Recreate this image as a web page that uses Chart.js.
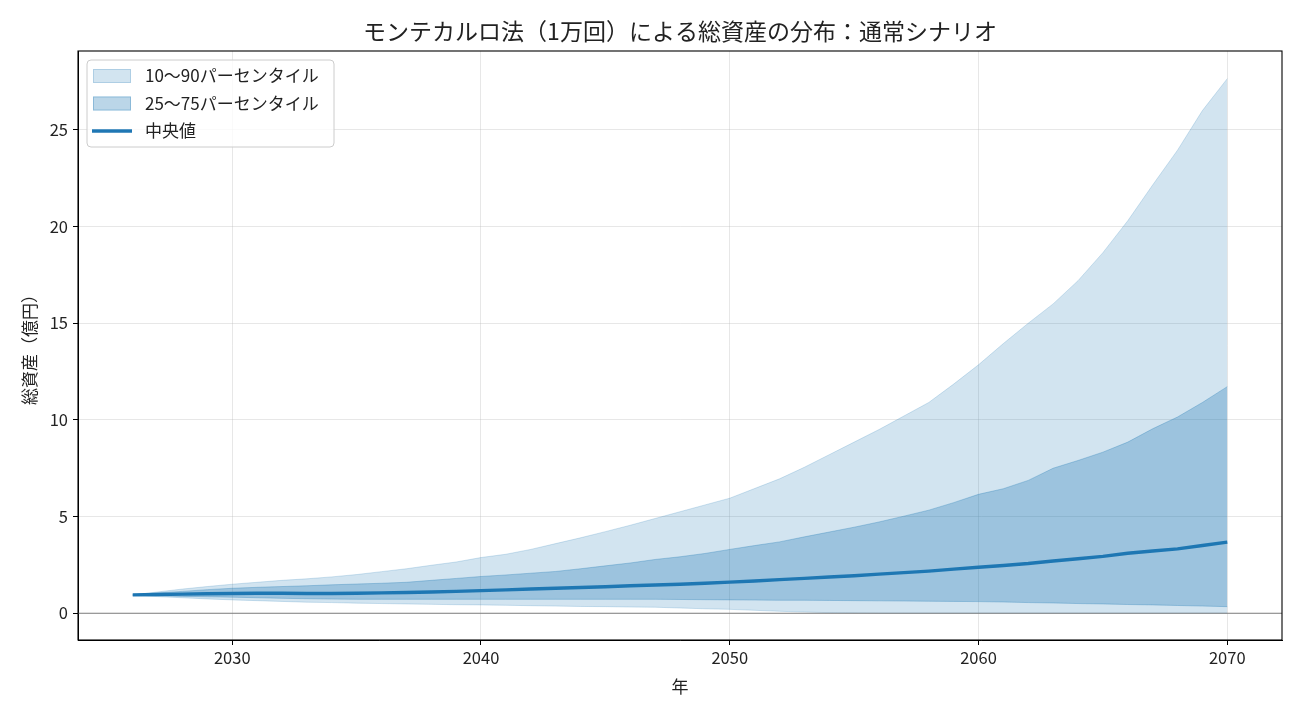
<!DOCTYPE html>
<html>
<head>
<meta charset="utf-8">
<script src="https://cdn.jsdelivr.net/npm/chart.js@4.4.1/dist/chart.umd.min.js"></script>
<style>
  html, body { margin: 0; padding: 0; background: #fff; }
</style>
</head>
<body>
<canvas id="chart" width="1300" height="715"></canvas>
<script>
// 年（横軸）
var years = [2026, 2027, 2028, 2029, 2030, 2031, 2032, 2033, 2034, 2035,
             2036, 2037, 2038, 2039, 2040, 2041, 2042, 2043, 2044, 2045,
             2046, 2047, 2048, 2049, 2050, 2051, 2052, 2053, 2054, 2055,
             2056, 2057, 2058, 2059, 2060, 2061, 2062, 2063, 2064, 2065,
             2066, 2067, 2068, 2069, 2070];

// パーセンタイル（億円）
var p10 = [0.92, 0.86, 0.80, 0.74, 0.69, 0.65, 0.61, 0.57, 0.55, 0.52,
           0.50, 0.48, 0.46, 0.44, 0.43, 0.41, 0.39, 0.37, 0.35, 0.34,
           0.32, 0.31, 0.27, 0.23, 0.20, 0.15, 0.10, 0.06, 0.03, 0.01,
           0.00, 0.00, 0.00, 0.00, 0.00, 0.00, 0.00, 0.00, 0.00, 0.00,
           0.00, 0.00, 0.00, 0.00, 0.00];
var p25 = [0.93, 0.90, 0.87, 0.85, 0.83, 0.80, 0.77, 0.75, 0.73, 0.72,
           0.72, 0.72, 0.72, 0.72, 0.72, 0.72, 0.72, 0.72, 0.72, 0.72,
           0.72, 0.72, 0.71, 0.70, 0.69, 0.68, 0.67, 0.67, 0.66, 0.65,
           0.64, 0.63, 0.62, 0.61, 0.60, 0.58, 0.55, 0.53, 0.50, 0.48,
           0.45, 0.43, 0.40, 0.37, 0.34];
var median = [0.95, 0.97, 0.99, 1.01, 1.02, 1.03, 1.03, 1.02, 1.02, 1.03,
              1.05, 1.07, 1.10, 1.13, 1.17, 1.21, 1.25, 1.29, 1.33, 1.37,
              1.42, 1.46, 1.50, 1.55, 1.61, 1.67, 1.74, 1.80, 1.87, 1.94,
              2.02, 2.10, 2.18, 2.28, 2.38, 2.47, 2.57, 2.70, 2.82, 2.94,
              3.10, 3.22, 3.33, 3.50, 3.68];
var p75 = [0.95, 1.05, 1.13, 1.22, 1.29, 1.34, 1.38, 1.42, 1.47, 1.51,
           1.55, 1.60, 1.70, 1.80, 1.90, 1.98, 2.07, 2.16, 2.30, 2.45,
           2.60, 2.78, 2.92, 3.09, 3.30, 3.50, 3.69, 3.95, 4.20, 4.45,
           4.72, 5.02, 5.33, 5.72, 6.15, 6.44, 6.87, 7.50, 7.90, 8.33,
           8.85, 9.54, 10.15, 10.90, 11.72];
var p90 = [0.95, 1.10, 1.25, 1.38, 1.50, 1.60, 1.70, 1.78, 1.88, 2.00,
           2.15, 2.30, 2.48, 2.65, 2.88, 3.05, 3.30, 3.60, 3.90, 4.22,
           4.55, 4.90, 5.25, 5.60, 5.95, 6.45, 6.95, 7.55, 8.20, 8.85,
           9.50, 10.20, 10.90, 11.85, 12.85, 13.95, 15.00, 16.00, 17.20, 18.65,
           20.30, 22.15, 23.95, 26.00, 27.65];

// 目盛り
var xTicks = [2030, 2040, 2050, 2060, 2070];
var yTicks = [0, 5, 10, 15, 20, 25];

var FONT = "'Noto Sans CJK JP', 'Noto Sans', sans-serif";
var BLUE = '#1f77b4';
var BAND_OUTER = 'rgba(31,119,180,0.2)';
var BAND_INNER = 'rgba(31,119,180,0.3)';

function toPoints(arr) {
    return years.map(function (yr, i) { return { x: yr, y: arr[i] }; });
}

// タイトル・枠・0ライン・凡例
var decorPlugin = {
    id: 'decor',
    afterDatasetsDraw: function (chart) {
        var ctx = chart.ctx, a = chart.chartArea;
        var y0 = chart.scales.y.getPixelForValue(0);
        ctx.save();
        ctx.strokeStyle = '#808080';
        ctx.lineWidth = 1.1;
        ctx.beginPath();
        ctx.moveTo(a.left, y0);
        ctx.lineTo(a.right, y0);
        ctx.stroke();
        ctx.restore();
    },
    afterDraw: function (chart) {
        var ctx = chart.ctx, a = chart.chartArea;
        ctx.save();
        // 枠
        ctx.strokeStyle = '#000';
        ctx.lineWidth = 1.1;
        ctx.strokeRect(a.left, a.top, a.right - a.left, a.bottom - a.top);

        // タイトル
        ctx.fillStyle = '#222';
        ctx.font = '23px ' + FONT;
        ctx.textAlign = 'center';
        ctx.textBaseline = 'middle';
        ctx.fillText('モンテカルロ法（1万回）による総資産の分布：通常シナリオ', (a.left + a.right) / 2, 31);

        // 凡例
        var bx = a.left + 9, by = a.top + 9, bw = 247, bh = 87;
        ctx.beginPath();
        ctx.roundRect(bx, by, bw, bh, 4);
        ctx.fillStyle = 'rgba(255,255,255,0.8)';
        ctx.fill();
        ctx.strokeStyle = '#cccccc';
        ctx.lineWidth = 1;
        ctx.stroke();

        var items = [
            { label: '10〜90パーセンタイル', type: 'box', color: BAND_OUTER },
            { label: '25〜75パーセンタイル', type: 'box', color: BAND_INNER },
            { label: '中央値', type: 'line', color: BLUE }
        ];
        ctx.font = '17px ' + FONT;
        ctx.textAlign = 'left';
        ctx.textBaseline = 'middle';
        items.forEach(function (it, i) {
            var cy = by + 16 + i * 27.5;
            if (it.type === 'box') {
                ctx.fillStyle = it.color;
                ctx.fillRect(bx + 6, cy - 7, 38, 14);
                ctx.strokeStyle = it.color;
                ctx.lineWidth = 1;
                ctx.strokeRect(bx + 6.5, cy - 6.5, 37, 13);
            } else {
                ctx.strokeStyle = it.color;
                ctx.lineWidth = 3.4;
                ctx.beginPath();
                ctx.moveTo(bx + 5, cy);
                ctx.lineTo(bx + 45, cy);
                ctx.stroke();
            }
            ctx.fillStyle = '#222';
            ctx.fillText(it.label, bx + 58, cy);
        });
        ctx.restore();
    }
};

var ctx = document.getElementById('chart').getContext('2d');
new Chart(ctx, {
    type: 'line',
    data: {
        datasets: [
            { label: 'p10', data: toPoints(p10), borderColor: BAND_OUTER, borderWidth: 1, fill: false },
            { label: '10〜90パーセンタイル', data: toPoints(p90), borderColor: BAND_OUTER, borderWidth: 1,
              backgroundColor: BAND_OUTER, fill: '-1' },
            { label: 'p25', data: toPoints(p25), borderColor: BAND_INNER, borderWidth: 1, fill: false },
            { label: '25〜75パーセンタイル', data: toPoints(p75), borderColor: BAND_INNER, borderWidth: 1,
              backgroundColor: BAND_INNER, fill: '-1' },
            { label: '中央値', data: toPoints(median), borderColor: BLUE, borderWidth: 3.4, fill: false }
        ]
    },
    options: {
        responsive: false,
        animation: false,
        devicePixelRatio: 1,
        layout: { padding: { top: 51, right: 18, left: 0, bottom: 0 } },
        elements: { point: { radius: 0 }, line: { tension: 0 } },
        plugins: {
            legend: { display: false },
            tooltip: { enabled: false },
            title: { display: false }
        },
        scales: {
            x: {
                type: 'linear',
                min: 2023.8,
                max: 2072.2,
                afterBuildTicks: function (s) { s.ticks = xTicks.map(function (v) { return { value: v }; }); },
                afterFit: function (s) { s.height = 75; },
                ticks: {
                    color: '#222',
                    font: { family: FONT, size: 16.5 },
                    padding: 3,
                    maxRotation: 0,
                    callback: function (v) { return String(v); }
                },
                grid: { color: 'rgba(176,176,176,0.3)', lineWidth: 1, tickColor: '#000', tickLength: 5 },
                border: { display: true, color: '#000', width: 1 },
                title: {
                    display: true, text: '年', color: '#222',
                    font: { family: FONT, size: 17 },
                    padding: { top: 0, bottom: 18 }
                }
            },
            y: {
                min: -1.385,
                max: 29.08,
                afterBuildTicks: function (s) { s.ticks = yTicks.map(function (v) { return { value: v }; }); },
                afterFit: function (s) { s.width = 78; },
                ticks: {
                    color: '#222',
                    font: { family: FONT, size: 16.5 },
                    padding: 5
                },
                grid: { color: 'rgba(176,176,176,0.3)', lineWidth: 1, tickColor: '#000', tickLength: 5 },
                border: { display: true, color: '#000', width: 1 },
                title: {
                    display: true, text: '総資産（億円）', color: '#222',
                    font: { family: FONT, size: 17 },
                    padding: { top: 19, bottom: 0 }
                }
            }
        }
    },
    plugins: [decorPlugin]
});
</script>
</body>
</html>
